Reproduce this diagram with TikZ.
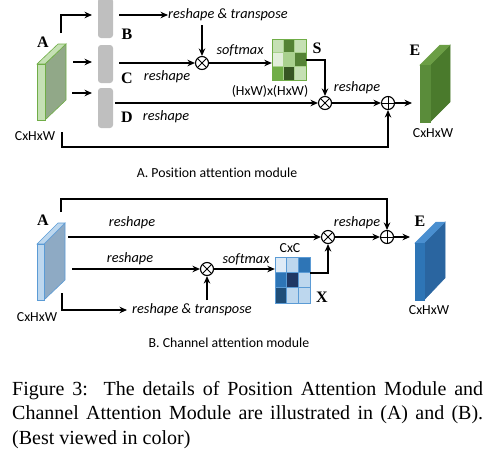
\documentclass[tikz,border=0pt]{standalone}
\usepackage{fontspec}
\setmainfont{Liberation Serif}
\setsansfont{Carlito}[Ligatures=NoCommon]
\usetikzlibrary{arrows.meta,calc}
\definecolor{gA}{HTML}{C5E0B4}
\definecolor{gAe}{HTML}{70AD47}
\definecolor{gAs}{HTML}{91A888}
\definecolor{gEf}{HTML}{5A8C3A}
\definecolor{gEt}{HTML}{6B9E45}
\definecolor{gEs}{HTML}{4A7A2C}
\definecolor{bA}{HTML}{BDD7EE}
\definecolor{bAe}{HTML}{5B9BD5}
\definecolor{bAs}{HTML}{8EAAC4}
\definecolor{bEf}{HTML}{2E75B6}
\definecolor{bEt}{HTML}{4A8FD0}
\definecolor{bEs}{HTML}{2A65A0}
\definecolor{barcol}{HTML}{BFBFBF}
\definecolor{s1}{HTML}{C5E0B4}
\definecolor{s2}{HTML}{548235}
\definecolor{s3}{HTML}{E2EFDA}
\definecolor{s4}{HTML}{A9D18E}
\definecolor{s5}{HTML}{70AD47}
\definecolor{s6}{HTML}{375623}
\definecolor{x1}{HTML}{DEEBF7}
\definecolor{x2}{HTML}{BDD7EE}
\definecolor{x3}{HTML}{2E75B6}
\definecolor{x4}{HTML}{203864}
\definecolor{x5}{HTML}{1F4E79}
\begin{document}
\begin{tikzpicture}[x=1pt,y=-1pt,
  arr/.style={-{Stealth[length=7.5pt,width=6.5pt]},line width=1.1pt},
  ln/.style={line width=1.1pt},
  lbl/.style={inner sep=0pt,font=\fontsize{14.3}{16}\selectfont\sffamily\itshape},
  ulbl/.style={inner sep=0pt,font=\fontsize{13.8}{16}\selectfont\sffamily},
  letter/.style={inner sep=0pt,font=\fontsize{16}{17}\selectfont\bfseries},
  bar/.style={fill=barcol,rounded corners=3pt,minimum width=15pt,inner sep=0pt},
  mul/.style={circle,draw,line width=1.1pt,minimum size=13pt,inner sep=0pt,fill=white,
    path picture={\draw[line width=0.9pt] (path picture bounding box.north west)--(path picture bounding box.south east)
      (path picture bounding box.north east)--(path picture bounding box.south west);}},
  add/.style={circle,draw,line width=1.1pt,minimum size=13pt,inner sep=0pt,fill=white,
    path picture={\draw[line width=0.9pt] (path picture bounding box.north)--(path picture bounding box.south)
      (path picture bounding box.west)--(path picture bounding box.east);}},
  mat/.style={minimum width=34pt,inner sep=0pt}
]
\useasboundingbox (0,0) rectangle (494,450);

% ================= Part A =================
% block A (green)
\filldraw[fill=gAs,draw=gAe,line width=0.6pt] (45,64)--(66,44)--(66,100)--(45,120)--cycle;
\filldraw[fill=gA,draw=gAe,line width=0.6pt] (37,64)--(45,64)--(66,44)--(58,44)--cycle;
\filldraw[fill=gA,draw=gAe,line width=0.6pt] (37,64) rectangle (45,120);
\node[letter] (lA) at (43,42) {A};
\node[ulbl] (dimA) at (35,136) {CxHxW};

% bars
\node[bar,minimum height=40pt] (barB) at (105.5,18) {};
\node[bar,minimum height=38pt] (barC) at (105.5,64) {};
\node[bar,minimum height=40pt] (barD) at (105.5,108) {};
\node[letter] (lB) at (127,34) {B};
\node[letter] (lC) at (127,78) {C};
\node[letter] (lD) at (127,117) {D};

\coordinate (aTop) at (61,33);
\coordinate (inB) at (92,15);
\coordinate (inCs) at (73,62);
\coordinate (inC) at (92,62);
\coordinate (inDs) at (72,93);
\coordinate (inD) at (92,93);
\draw[arr] (aTop) |- (inB);
\draw[arr] (inCs) -- (inC);
\draw[arr] (inDs) -- (inD);

% B branch
\coordinate (outB) at (119,15);
\node[lbl,anchor=west] (rtB) at (168,15) {reshape \& transpose};
\draw[arr] (outB) -- (rtB.west);
\node[mul] (m1) at (202,63) {};
\coordinate (rtBd) at (202,25);
\draw[arr] (rtBd) -- (m1.north);
\coordinate (outC) at (119,63);
\draw[arr] (outC) -- (m1.west);
\node[lbl] at (167,77) {reshape};

% S matrix
\node[mat,minimum height=41pt] (matS) at (289,59.5) {};
\foreach \r/\c/\col in {0/0/s1,0/1/s2,0/2/s1,1/0/s3,1/1/s4,1/2/s2,2/0/s5,2/1/s6,2/2/s1}{
  \filldraw[fill=\col,draw=s4,line width=0.5pt]
    ($(matS.north west)+(\c*11.333,\r*13.667)$) rectangle ++(11.333,13.667);
}
\draw[draw=s5,line width=0.6pt] (matS.north west) rectangle (matS.south east);
\node[letter] (lS) at (317,48) {S};
\draw[arr] (m1.east) -- (matS.west |- m1);
\node[lbl] at (240,50) {softmax};

\node[mul] (m2) at (325,103) {};
\node[add] (a1) at (388,103) {};
\coordinate (sOut) at (306,60);
\draw[arr] (sOut) -| (m2.north);
\coordinate (outD) at (115,103);
\draw[arr] (outD) -- (m2.west);
\node[ulbl] at (270,91) {(HxW)x(HxW)};
\node[lbl] at (166,117) {reshape};
\draw[arr] (m2.east) -- (a1.west);
\node[lbl] at (357,88) {reshape};
\coordinate (eIn) at (412,103);
\draw[arr] (a1.east) -- (eIn);
\coordinate (aBot) at (62,132);
\coordinate (loopA) at (62,147);
\draw[arr] (aBot) -- (loopA) -| (a1.south);

% block E (green)
\filldraw[fill=gEs,draw=gEs,line width=0.5pt] (430,65)--(450,45)--(450,102)--(430,122)--cycle;
\filldraw[fill=gEt,draw=gEt,line width=0.5pt] (420,65)--(430,65)--(450,45)--(440,45)--cycle;
\filldraw[fill=gEf,draw=gEf,line width=0.5pt] (420,65) rectangle (430,122);
\node[letter] (lE) at (415,50) {E};
\node[ulbl] (dimE) at (433,133) {CxHxW};

\node[ulbl] (titleA) at (217,173) {A. Position attention module};

% ================= Part B =================
\filldraw[fill=bAs,draw=bAe,line width=0.6pt] (44,244)--(65,223)--(65,280)--(44,300)--cycle;
\filldraw[fill=bA,draw=bAe,line width=0.6pt] (37,244)--(44,244)--(65,223)--(58,223)--cycle;
\filldraw[fill=bA,draw=bAe,line width=0.6pt] (37,244) rectangle (44,300);
\node[letter] (lA2) at (43,220) {A};
\node[ulbl] (dimA2) at (37,317) {CxHxW};

\node[mul] (m3) at (207,269) {};
\node[mul] (m4) at (328,237) {};
\node[add] (a2) at (387,237) {};

\coordinate (bTop) at (61,212);
\coordinate (loopB) at (61,199);
\draw[arr] (bTop) -- (loopB) -| (a2.north);
\coordinate (r1s) at (68,237);
\draw[arr] (r1s) -- (m4.west);
\node[lbl] at (132,223) {reshape};
\coordinate (r2s) at (72,269);
\draw[arr] (r2s) -- (m3.west);
\node[lbl] at (130,259) {reshape};
\coordinate (bBot) at (62,293);
\node[lbl,anchor=west] (rtB2) at (132,310) {reshape \& transpose};
\draw[arr] (bBot) |- ([xshift=-5pt]rtB2.west);
\coordinate (rtB2u) at (207,300);
\draw[arr] (rtB2u) -- (m3.south);

\node[mat,minimum width=35pt,minimum height=46pt] (matX) at (292.5,280) {};
\foreach \r/\c/\col in {0/0/x1,0/1/x2,0/2/x3,1/0/x3,1/1/x4,1/2/x2,2/0/x5,2/1/x2,2/2/x2}{
  \filldraw[fill=\col,draw=bAe,line width=0.5pt]
    ($(matX.north west)+(\c*11.667,\r*15.333)$) rectangle ++(11.667,15.333);
}
\draw[arr] (m3.east) -- (matX.west |- m3);
\node[lbl] at (246,259) {softmax};
\node[ulbl] (cxc) at (290,248) {CxC};
\node[letter] (lX) at (322,297) {X};
\coordinate (xOut) at (310,273);
\draw[arr] (xOut) -| (m4.south);
\draw[arr] (m4.east) -- (a2.west);
\node[lbl] at (357,223) {reshape};
\coordinate (eIn2) at (410,237);
\draw[arr] (a2.east) -- (eIn2);

% block E (blue)
\filldraw[fill=bEs,draw=bEs,line width=0.5pt] (424,243)--(445,222)--(445,278)--(424,300)--cycle;
\filldraw[fill=bEt,draw=bEt,line width=0.5pt] (415,243)--(424,243)--(445,222)--(436,222)--cycle;
\filldraw[fill=bEf,draw=bEf,line width=0.5pt] (415,243) rectangle (424,300);
\node[letter] (lE2) at (420,221) {E};
\node[ulbl] (dimE2) at (429,310) {CxHxW};

\node[ulbl] (titleB) at (229,343) {B. Channel attention module};

% ================= Caption =================
\begin{scope}[every node/.style={inner sep=0pt,anchor=base west,font=\fontsize{20}{24}\selectfont}]
\node (cap1) at (12,395) {\makebox[471pt][s]{Figure 3:\ \ The details of Position Attention Module and}};
\node (cap2) at (12,419.5) {\makebox[471pt][s]{Channel Attention Module are illustrated in (A) and (B).}};
\node (cap3) at (12,444) {(Best viewed in color)};
\end{scope}
\end{tikzpicture}
\end{document}
